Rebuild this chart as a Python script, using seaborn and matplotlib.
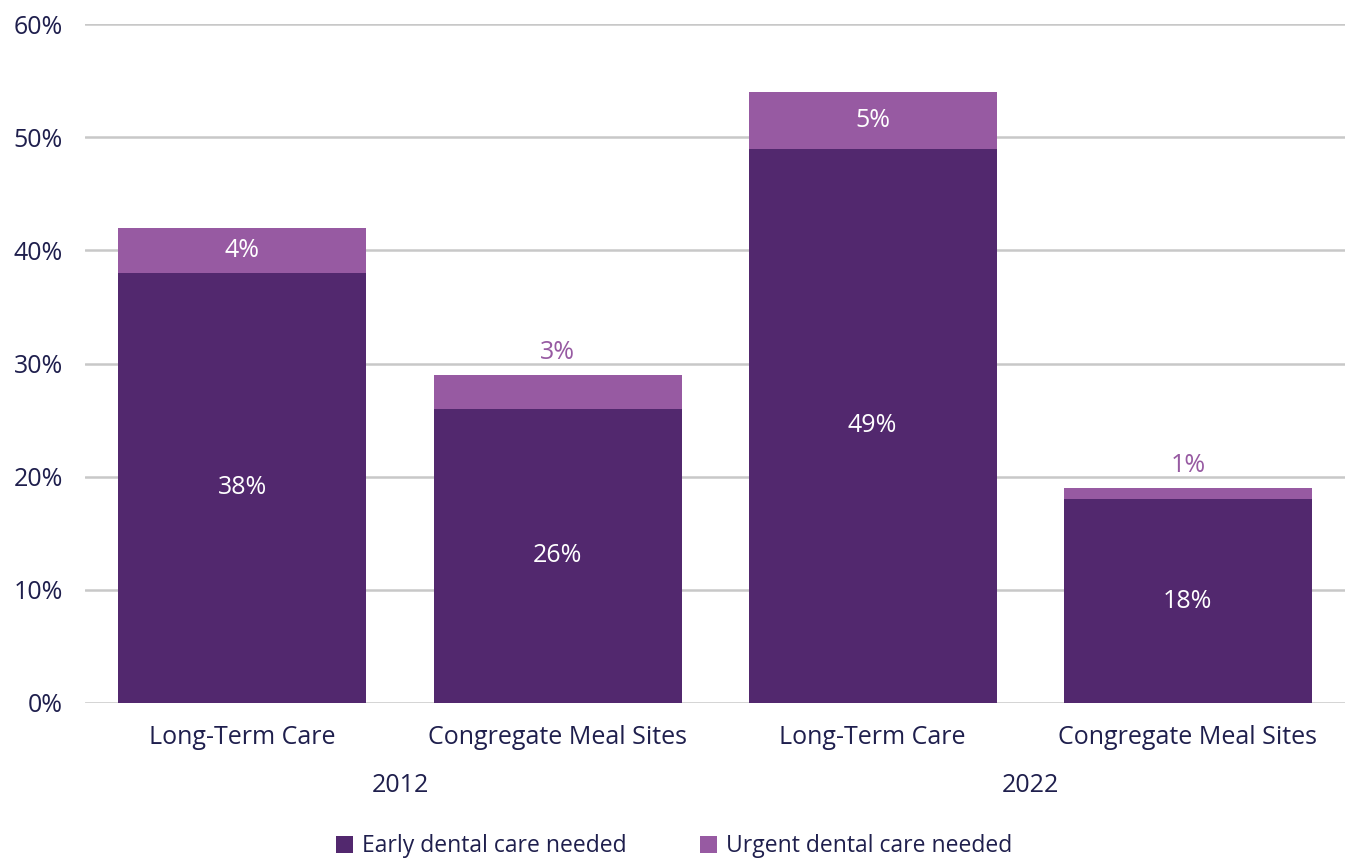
import matplotlib
matplotlib.use("Agg")
import matplotlib.pyplot as plt
import seaborn as sns
import pandas as pd
from matplotlib.patches import Patch

years = ["2012", "2012", "2022", "2022"]
settings = ["Long-Term Care", "Congregate Meal Sites", "Long-Term Care", "Congregate Meal Sites"]
early = [38, 26, 49, 18]
urgent = [4, 3, 5, 1]
y_ticks = [0, 10, 20, 30, 40, 50, 60]
series_names = ["Early dental care needed", "Urgent dental care needed"]

DARK = "#52286E"
LIGHT = "#975AA2"
TEXT = "#1F1F4D"
GRID = "#C8C8C8"
FS = 18
FS_LEG = 16.5

sns.set_theme(style="white")
plt.rcParams["font.family"] = ["Open Sans", "DejaVu Sans"]

df = pd.DataFrame({
    "key": [f"{y} {s}" for y, s in zip(years, settings)],
    "setting": settings,
    "year": years,
    "early": early,
    "urgent": urgent,
})
df["total"] = df["early"] + df["urgent"]

fig = plt.figure(figsize=(13.48, 8.6), dpi=100)
ax = fig.add_axes([0.063, 0.1826, 0.935, 0.7894])

order = list(df["key"])
sns.barplot(data=df, x="key", y="total", order=order, color=LIGHT, saturation=1,
            width=0.787, ax=ax, zorder=3)
sns.barplot(data=df, x="key", y="early", order=order, color=DARK, saturation=1,
            width=0.787, ax=ax, zorder=4)
for p in ax.patches:
    p.set_edgecolor("none")

ax.set_ylim(0, 60)
ax.set_xlim(-0.5, 3.5)
ax.set_yticks(y_ticks)
ax.set_yticklabels([f"{t}%" for t in y_ticks], color=TEXT, fontsize=FS)
ax.set_xticks(range(len(order)))
ax.set_xticklabels(settings, color=TEXT, fontsize=FS)
ax.tick_params(axis="x", length=0, pad=16)
ax.tick_params(axis="y", length=0, pad=16)
ax.set_xlabel("")
ax.set_ylabel("")
for s in ax.spines.values():
    s.set_visible(False)
ax.yaxis.grid(True, color=GRID, linewidth=1.8, zorder=0)
ax.set_axisbelow(True)

# value labels
for i, row in df.iterrows():
    ax.text(i, row["early"] / 2, f"{row['early']}%", ha="center", va="center",
            color="white", fontsize=FS, zorder=5)
    if row["urgent"] >= 4:
        ax.text(i, row["early"] + row["urgent"] / 2, f"{row['urgent']}%",
                ha="center", va="center", color="white", fontsize=FS, zorder=5)
    else:
        ax.text(i, row["total"] + 2.0, f"{row['urgent']}%", ha="center",
                va="center", color=LIGHT, fontsize=FS, zorder=5)

# year group labels
for yr in dict.fromkeys(years):
    idx = [i for i, y in enumerate(years) if y == yr]
    cx = sum(idx) / len(idx)
    ax.text(cx, -7.3, yr, ha="center", va="center", color=TEXT, fontsize=FS,
            transform=ax.transData, clip_on=False)

handles = [Patch(facecolor=DARK, edgecolor="none"), Patch(facecolor=LIGHT, edgecolor="none")]
fig.legend(handles, series_names, loc="center", bbox_to_anchor=(0.5, 0.016),
           ncol=2, frameon=False, fontsize=FS_LEG, handlelength=0.75, handleheight=0.75,
           handletextpad=0.4, columnspacing=3.2, labelcolor=TEXT)

fig.savefig("out.png", dpi=100)
